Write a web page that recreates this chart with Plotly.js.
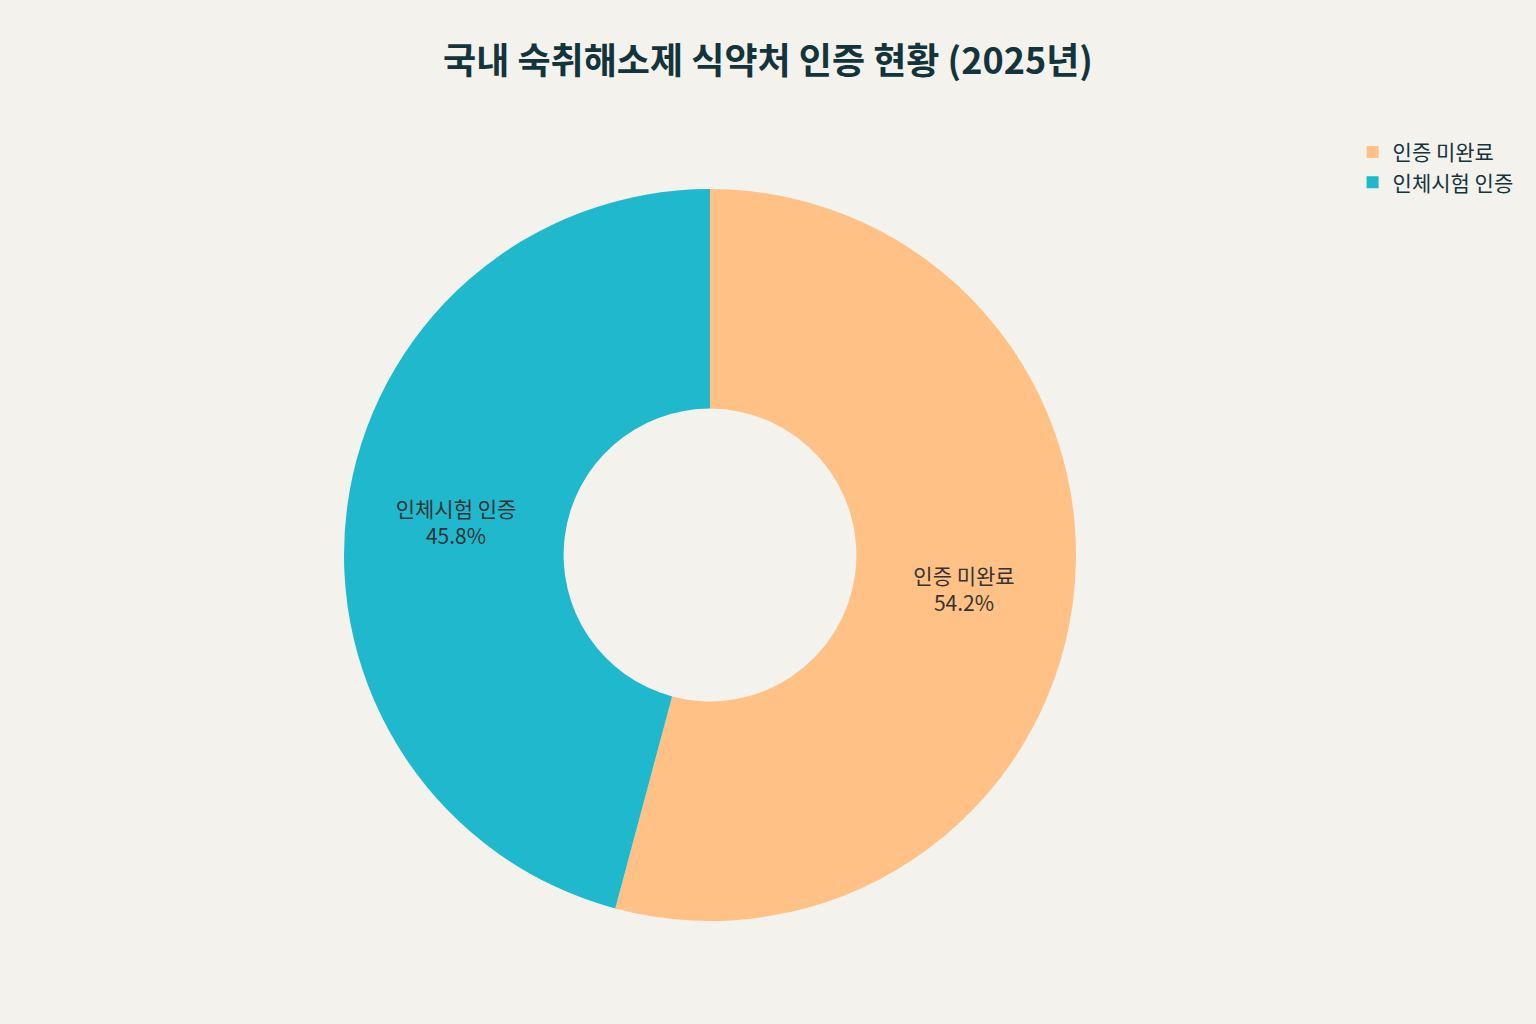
<!DOCTYPE html>
<html>
<head>
<meta charset="utf-8">
<script src="https://cdn.plot.ly/plotly-3.0.1.min.js"></script>
<style>
  html, body { margin: 0; padding: 0; background: #F3F2EC; }
  #chart { width: 1536px; height: 1024px; }
</style>
</head>
<body>
<div id="chart"></div>
<script>
// 식약처 인증 현황 (2025년)
const categories = ['인증 미완료', '인체시험 인증'];
const counts = [13, 11];
const sliceColors = ['#FFC185', '#1FB8CD'];

Plotly.newPlot('chart', [{
  type: 'pie',
  labels: categories,
  values: counts,
  hole: 0.4,
  sort: false,
  direction: 'clockwise',
  rotation: 0,
  marker: { colors: sliceColors, line: { width: 0 } },
  texttemplate: '%{label}<br>%{percent:.1%}',
  textposition: 'inside',
  insidetextorientation: 'horizontal',
  textfont: { family: 'Noto Sans CJK KR', size: 21, color: '#333333' },
  hoverinfo: 'label+percent'
}], {
  title: {
    text: '<b>국내 숙취해소제 식약처 인증 현황 (2025년)</b>',
    font: { family: 'Noto Sans CJK KR', size: 36, color: '#13343B' },
    x: 0.5, y: 0.952, xanchor: 'center'
  },
  paper_bgcolor: '#F3F2EC',
  plot_bgcolor: '#F3F2EC',
  font: { family: 'Noto Sans CJK KR', color: '#13343B' },
  margin: { t: 189, b: 103, l: 80, r: 196 },
  showlegend: true,
  legend: {
    x: 1.01, xanchor: 'left', y: 1.078, yanchor: 'top',
    font: { size: 21, color: '#13343B' },
    bgcolor: 'rgba(0,0,0,0)'
  }
}, { displayModeBar: false });
</script>
</body>
</html>
